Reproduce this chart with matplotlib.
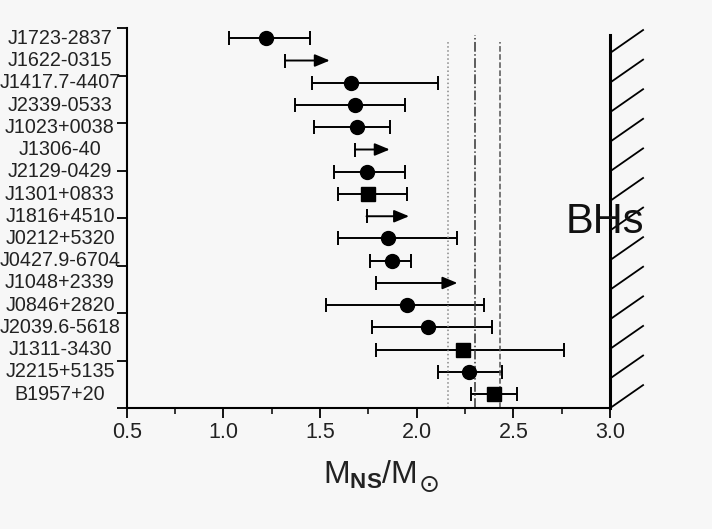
import numpy as np
import matplotlib
matplotlib.use('Agg')
import matplotlib.pyplot as plt
from matplotlib.transforms import IdentityTransform

plt.rcParams['font.family'] = ['Liberation Sans', 'DejaVu Sans']
plt.rcParams['mathtext.fontset'] = 'custom'
plt.rcParams['mathtext.rm'] = 'Liberation Sans'
plt.rcParams['mathtext.bf'] = 'Liberation Sans:bold'

# pulsar names, top to bottom
pulsars = ['J1723-2837', 'J1622-0315', 'J1417.7-4407', 'J2339-0533', 'J1023+0038',
           'J1306-40', 'J2129-0429', 'J1301+0833', 'J1816+4510', 'J0212+5320',
           'J0427.9-6704', 'J1048+2339', 'J0846+2820', 'J2039.6-5618', 'J1311-3430',
           'J2215+5135', 'B1957+20']
# 'o' circle, 's' square, 'lim' = lower limit (arrow from low to high)
kind = ['o', 'lim', 'o', 'o', 'o', 'lim', 'o', 's', 'lim', 'o',
        'o', 'lim', 'o', 'o', 's', 'o', 's']
mass_best = [1.22, None, 1.66, 1.68, 1.69, None, 1.74, 1.75, None, 1.85,
             1.87, None, 1.95, 2.06, 2.24, 2.27, 2.40]
mass_low = [1.03, 1.32, 1.46, 1.37, 1.47, 1.68, 1.57, 1.59, 1.74, 1.59,
            1.76, 1.79, 1.53, 1.77, 1.79, 2.11, 2.28]
mass_high = [1.45, 1.55, 2.11, 1.94, 1.86, 1.86, 1.94, 1.95, 1.96, 2.21,
             1.97, 2.21, 2.35, 2.39, 2.76, 2.44, 2.52]

# reference mass lines
ref_mass = [2.16, 2.30, 2.43]
ref_style = [':', '-.', '--']
ref_color = ['#888888', '#333333', '#555555']

fig = plt.figure(figsize=(7.12, 5.29), dpi=100)
fig.patch.set_facecolor('#f7f7f7')
ax = fig.add_axes([0.178, 0.2287, 0.679, 0.7183])
ax.set_facecolor('#f7f7f7')

y_top, y_bot = -0.46, 16.62
ax.set_xlim(0.5, 3.0)
ax.set_ylim(y_bot, y_top)

for i, name in enumerate(pulsars):
    if kind[i] == 'lim':
        ax.annotate('', xy=(mass_high[i], i), xytext=(mass_low[i], i),
                    arrowprops=dict(arrowstyle='-|>,head_length=0.6,head_width=0.25',
                                    color='black', lw=1.4, mutation_scale=15,
                                    shrinkA=0, shrinkB=0))
        ax.plot([mass_low[i]], [i], marker='|', ms=10, mew=1.4, color='black')
    else:
        m = mass_best[i]
        ax.errorbar([m], [i], xerr=[[m - mass_low[i]], [mass_high[i] - m]],
                    fmt=kind[i], ms=10 if kind[i] == 'o' else 9.5, color='black',
                    ecolor='black', elinewidth=1.4, capsize=5, capthick=1.4)
    ax.text(-0.138, i, name, transform=ax.get_yaxis_transform(),
            ha='center', va='center', fontsize=14.2, color='#222222')

for xm, ls, c in zip(ref_mass, ref_style, ref_color):
    top = -0.15 if ls == '-.' else 0.15
    ax.vlines(xm, y_bot, top, linestyles=ls, colors=c, lw=1.1)

# black hole region
ax.spines['top'].set_visible(False)
ax.spines['right'].set_linewidth(2.2)
ax.spines['right'].set_bounds(y_bot, -0.15)
for ys in np.linspace(0.66, y_bot, 13):
    ax.plot([3.0, 3.17], [ys, ys - 1.03], color='black', lw=1.3, clip_on=False)
ax.text(2.972, 8.75, 'BHs', fontsize=30, ha='center', va='baseline', color='#111111')

ax.spines['left'].set_linewidth(1.5)
ax.spines['bottom'].set_linewidth(1.5)
ax.set_yticks(np.linspace(y_top, y_bot, 9))
ax.set_yticklabels([])
ax.tick_params(axis='y', direction='out', length=7, width=1.3)
ax.set_xticks([0.5, 1.0, 1.5, 2.0, 2.5, 3.0])
ax.set_xticks([0.75, 1.25, 1.75, 2.25, 2.75], minor=True)
ax.tick_params(axis='x', which='major', direction='out', length=7, width=1.3,
               labelsize=15.5, pad=3, labelcolor='#222222')
ax.tick_params(axis='x', which='minor', direction='out', length=4, width=1.1)
ax.set_xticklabels(['0.5', '1.0', '1.5', '2.0', '2.5', '3.0'])

ax.set_xlabel(r'$\mathrm{M}_{\mathbf{NS}}/\mathrm{M}$', fontsize=23, color='#222222')
ax.xaxis.set_label_coords(0.503, -0.132)

# solar symbol as a larger subscript after the label
fig.canvas.draw()
bb = ax.xaxis.label.get_window_extent()
fig.text(bb.x1 + 2, 44, '\u2299', fontsize=18, family='DejaVu Sans',
         ha='left', va='center', color='#222222', transform=IdentityTransform())

fig.savefig('out.png', dpi=100, facecolor=fig.get_facecolor())
